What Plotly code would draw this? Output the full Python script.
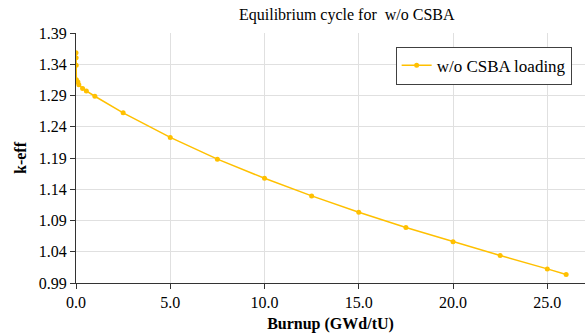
import plotly.graph_objects as go

burnup = [0.0, 0.005, 0.01, 0.02, 0.1, 0.15, 0.35, 0.55, 1.0, 2.5, 5.0, 7.5, 10.0,
          12.5, 15.0, 17.5, 20.0, 22.5, 25.0, 26.0]
keff = [1.3584, 1.3505, 1.3382, 1.3154, 1.3115, 1.3074, 1.3011, 1.2973, 1.2888,
        1.2623, 1.2229, 1.1882, 1.1575, 1.1294, 1.1032, 1.0787, 1.0559, 1.0340,
        1.0126, 1.0037]
series_name = "w/o CSBA loading"
x_ticks = [0, 5, 10, 15, 20, 25]
y_ticks = [0.99, 1.04, 1.09, 1.14, 1.19, 1.24, 1.29, 1.34, 1.39]

FONT = "Liberation Serif"
GOLD = "#FFC000"

fig = go.Figure()
fig.add_trace(go.Scatter(
    x=burnup, y=keff, mode="lines+markers", name=series_name,
    line=dict(color=GOLD, width=1.5),
    marker=dict(color=GOLD, size=5),
))

fig.update_layout(
    width=587, height=333,
    margin=dict(l=76, r=2, t=33, b=50),
    paper_bgcolor="white", plot_bgcolor="white",
    font=dict(family=FONT, size=16, color="#000000"),
    showlegend=True,
    legend=dict(x=0.628, y=0.945, xanchor="left", yanchor="top",
                bordercolor="#404040", borderwidth=1, bgcolor="white",
                font=dict(family=FONT, size=17, color="#000000"),
                itemwidth=30, tracegroupgap=0),
    annotations=[dict(text="Equilibrium cycle for \u00a0w/o CSBA", x=312/587, y=1.0,
                      xref="paper", yref="paper", xanchor="center", yanchor="top",
                      yshift=33 - 4, showarrow=False,
                      font=dict(family=FONT, size=16, color="#000000"))],
)
fig.update_xaxes(
    range=[0, 27], tickvals=x_ticks, ticktext=[f"{v:.1f}" for v in x_ticks],
    showgrid=True, gridcolor="#e0e0e0", gridwidth=1,
    showline=True, linecolor="#333333", linewidth=1.2,
    ticks="outside", ticklen=5, tickcolor="#333333", zeroline=False,
    title=dict(text="<b>Burnup (GWd/tU)</b>", font=dict(family=FONT, size=16, color="#000000"), standoff=8),
    tickfont=dict(family=FONT, size=16, color="#000000"),
)
fig.update_yaxes(
    range=[0.99, 1.39], tickvals=y_ticks, ticktext=[f"{v:.2f}" for v in y_ticks],
    showgrid=True, gridcolor="#e0e0e0", gridwidth=1,
    showline=True, linecolor="#333333", linewidth=1.2,
    ticks="outside", ticklen=5, tickcolor="#333333", zeroline=False,
    title=dict(text="<b>k-eff</b>", font=dict(family=FONT, size=16, color="#000000"), standoff=8),
    tickfont=dict(family=FONT, size=16, color="#000000"),
)

fig.write_html("out.html", config={"displayModeBar": False},
               post_script="document.body.style.margin='0';document.body.style.overflow='hidden';")
